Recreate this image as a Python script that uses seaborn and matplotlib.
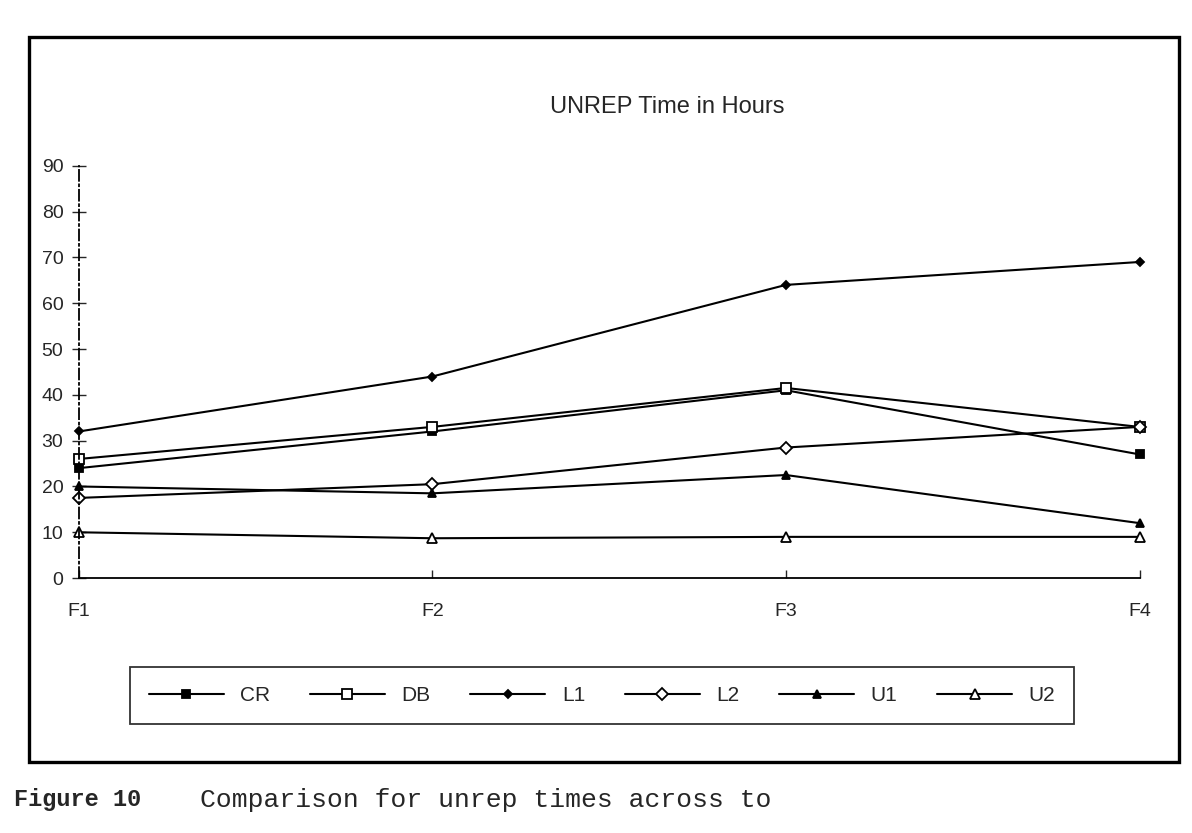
import seaborn as sns
import matplotlib.pyplot as plt
from matplotlib.patches import Rectangle

# Categorias (fases) e séries
phases = ['F1', 'F2', 'F3', 'F4']
cr = [24, 32, 41, 27]
db = [26, 33, 41.5, 33]
l1 = [32, 44, 64, 69]
l2 = [17.5, 20.5, 28.5, 33]
u1 = [20, 18.5, 22.5, 12]
u2 = [10, 8.7, 9, 9]

series_names = ['CR', 'DB', 'L1', 'L2', 'U1', 'U2']
series_values = [cr, db, l1, l2, u1, u2]
y_ticks = list(range(0, 100, 10))

# marcador, tamanho, preenchido?
styles = {
    'CR': ('s', 6, True),
    'DB': ('s', 9, False),
    'L1': ('D', 5, True),
    'L2': ('D', 7, False),
    'U1': ('^', 6, True),
    'U2': ('^', 8, False),
}

sns.set_style('white')
plt.rcParams['font.family'] = ['Liberation Sans', 'DejaVu Sans']

fig = plt.figure(figsize=(11.92, 8.33), dpi=100)
ax = fig.add_axes([0.066, 0.306, 0.89, 0.495])

for name, vals in zip(series_names, series_values):
    marker, size, filled = styles[name]
    sns.lineplot(x=phases, y=vals, ax=ax, color='black', linewidth=1.5,
                 marker=marker, markersize=size,
                 markerfacecolor='black' if filled else 'white',
                 markeredgecolor='black', markeredgewidth=1.3,
                 label=name, legend=False, clip_on=False)

ax.set_xlim(0, 3)
ax.set_ylim(0, 90)
ax.set_yticks(y_ticks)
ax.set_xticks(range(len(phases)))
ax.set_xticklabels(phases)
ax.set_xlabel('')
ax.set_ylabel('')
ax.tick_params(axis='y', direction='inout', length=10, width=1, labelsize=14, pad=6, left=True)
ax.tick_params(axis='x', direction='in', length=6, width=1, labelsize=14, pad=18, bottom=True)
for side in ['top', 'right']:
    ax.spines[side].set_visible(False)
for side in ['left', 'bottom']:
    ax.spines[side].set_color('black')
    ax.spines[side].set_linewidth(1.3)
ax.spines['left'].set_linestyle((0, (6, 2, 1, 2)))

fig.text(0.56, 0.872, 'UNREP Time in Hours', ha='center', va='center', fontsize=17)

# Legenda em uma linha com moldura
handles, labels = ax.get_legend_handles_labels()
for h in handles:
    h.set_markersize(h.get_markersize() * 0.85)
leg = fig.legend(handles, labels, loc='center', bbox_to_anchor=(0.505, 0.165),
                 ncol=6, frameon=True, fancybox=False, edgecolor='black',
                 fontsize=15, handlelength=3.6, columnspacing=1.9,
                 borderpad=0.9, handletextpad=0.8)
leg.get_frame().set_linewidth(1.3)

# Moldura externa do gráfico
fig.patches.append(Rectangle((0.024, 0.085), 0.965, 0.87, transform=fig.transFigure,
                             fill=False, edgecolor='black', linewidth=2.4))

mono = ['Liberation Mono', 'DejaVu Sans Mono']
fig.text(0.012, 0.04, 'Figure 10', fontsize=17, fontweight='bold', family=mono, va='center')
fig.text(0.168, 0.04, 'Comparison for unrep times across to', fontsize=19,
         family=mono, va='center')

fig.savefig('out.png', dpi=100, facecolor='white')
